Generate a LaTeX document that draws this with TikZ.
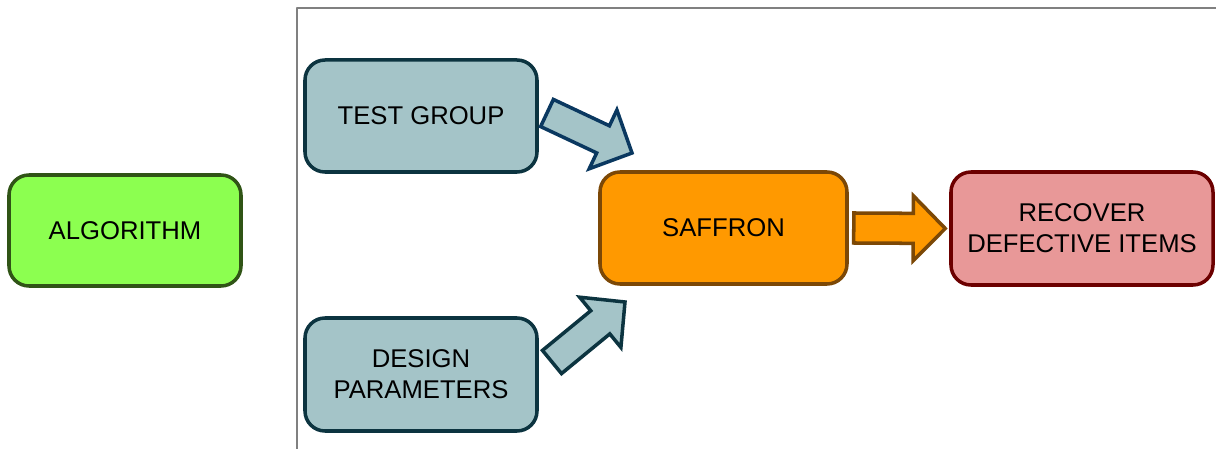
\documentclass[tikz,border=0pt]{standalone}
\usepackage{fontspec}
\setmainfont{Liberation Sans}
\usetikzlibrary{calc}

\definecolor{algofill}{RGB}{140,255,80}
\definecolor{algoline}{RGB}{48,84,22}
\definecolor{inputfill}{RGB}{164,196,200}
\definecolor{inputline}{RGB}{12,52,64}
\definecolor{arrowline}{RGB}{10,56,96}
\definecolor{saffill}{RGB}{255,153,0}
\definecolor{safline}{RGB}{124,72,6}
\definecolor{outfill}{RGB}{232,152,152}
\definecolor{outline}{RGB}{108,0,0}

% fat arrow from tail #2 to tip #3
\newcommand{\blockarrow}[3]{%
  \path ($(#3)!0.64cm!(#2)$) coordinate (hb);
  \draw[#1] ($(#2)!0.3cm!90:(#3)$) -- ($(hb)!0.3cm!90:(#3)$) -- ($(hb)!0.65cm!90:(#3)$)
    -- (#3) -- ($(hb)!0.65cm!-90:(#3)$) -- ($(hb)!0.3cm!-90:(#3)$) -- ($(#2)!0.3cm!-90:(#3)$) -- cycle;}

\begin{document}
\begin{tikzpicture}[line join=round, line cap=round,
    font=\fontsize{14.6}{17.5}\selectfont,
    box/.style={draw, line width=2pt, rounded corners=0.4cm, align=center, inner sep=0pt},
    fat/.style={line width=2pt, line join=miter}]
  \useasboundingbox (0,0) rectangle (24.32,8.98);
  \draw[gray, line width=0.6pt] (5.94,0) |- (24.32,8.82);

  \node[box, fill=algofill, draw=algoline, minimum width=4.64cm, minimum height=2.22cm] (algo) at (2.5,4.37) {ALGORITHM};
  \node[box, fill=inputfill, draw=inputline, minimum width=4.64cm, minimum height=2.24cm] (test) at (8.42,6.66) {TEST GROUP};
  \node[box, fill=inputfill, draw=inputline, minimum width=4.64cm, minimum height=2.26cm] (design) at (8.42,1.49) {DESIGN\\PARAMETERS};
  \node[box, fill=saffill, draw=safline, minimum width=4.94cm, minimum height=2.24cm] (saffron) at (14.47,4.42) {SAFFRON};
  \node[box, fill=outfill, draw=outline, minimum width=5.24cm, minimum height=2.26cm] (recover) at (21.64,4.41) {RECOVER\\DEFECTIVE ITEMS};

  \path
  (10.94,6.72) coordinate (t1) (12.64,5.92) coordinate (h1)
  (11.04,1.74) coordinate (t2) (12.50,2.94) coordinate (h2)
  ($(saffron.east)+(0.1,0)$) coordinate (t3) ($(recover.west)+(-0.08,0)$) coordinate (h3);

  \blockarrow{fat, fill=inputfill, draw=arrowline}{t1}{h1}
  \blockarrow{fat, fill=inputfill, draw=inputline}{t2}{h2}
  \blockarrow{fat, fill=saffill, draw=safline}{t3}{h3}
\end{tikzpicture}
\end{document}
